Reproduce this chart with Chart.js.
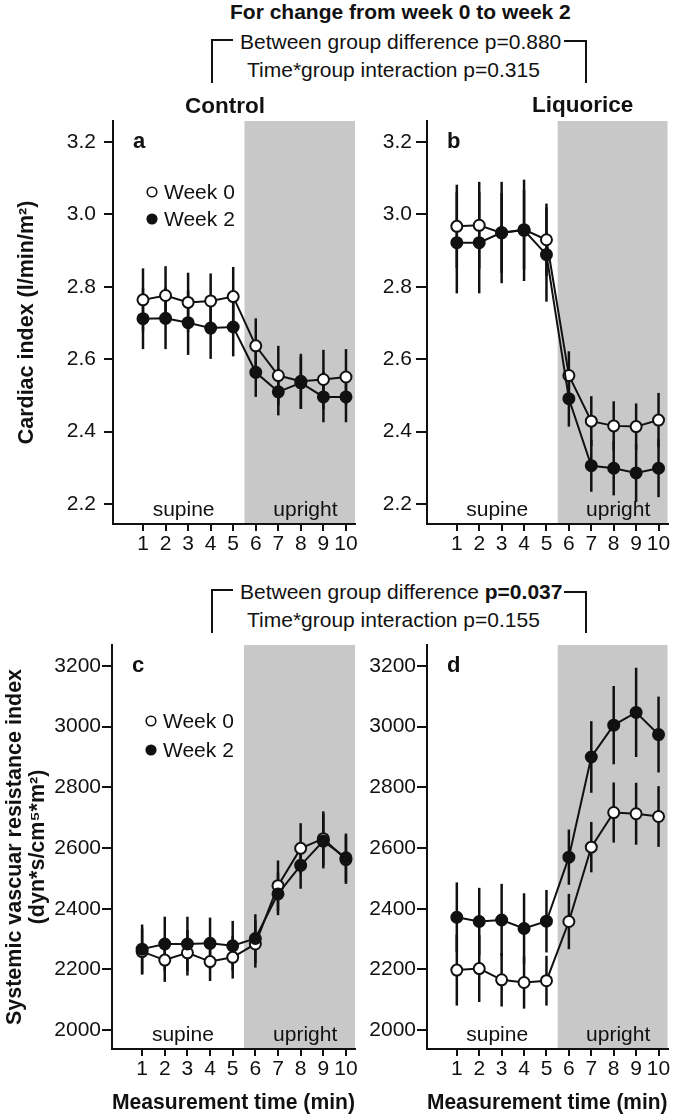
<!DOCTYPE html>
<html>
<head>
<meta charset="utf-8">
<script src="https://cdn.jsdelivr.net/npm/chart.js@4.4.1/dist/chart.umd.min.js"></script>
<style>
body { margin:0; background:#fff; }
#fig { position:relative; width:675px; height:1116px; font-family:"Liberation Sans", Arial, sans-serif; color:#111; overflow:hidden; }
canvas { position:absolute; }
.txt { position:absolute; white-space:nowrap; font-size:21px; line-height:24px; }
.b { font-weight:bold; }
.ln { position:absolute; background:#111; }
</style>
</head>
<body>
<div id="fig">
  <canvas id="pa" width="370" height="460" style="left:0;top:110px"></canvas>
  <canvas id="pb" width="305" height="460" style="left:370px;top:110px"></canvas>
  <canvas id="pc" width="370" height="481" style="left:0;top:635px"></canvas>
  <canvas id="pd" width="305" height="481" style="left:370px;top:635px"></canvas>

  <div class="txt b" style="left:230px;top:0px">For change from week 0 to week 2</div>
  <div class="txt" style="left:240px;top:30px">Between group difference p=0.880</div>
  <div class="txt" style="left:247px;top:58px">Time*group interaction p=0.315</div>
  <div class="txt b" style="left:185px;top:94px;font-size:22.5px">Control</div>
  <div class="txt b" style="left:532px;top:93px;font-size:22.5px">Liquorice</div>
  <div class="ln" style="left:211px;top:39px;width:2px;height:44px"></div>
  <div class="ln" style="left:211px;top:39px;width:22px;height:2px"></div>
  <div class="ln" style="left:564px;top:40px;width:23px;height:2px"></div>
  <div class="ln" style="left:585px;top:40px;width:2px;height:43px"></div>

  <div class="txt" style="left:240px;top:580px">Between group difference <b>p=0.037</b></div>
  <div class="txt" style="left:247px;top:608px">Time*group interaction p=0.155</div>
  <div class="ln" style="left:211px;top:589px;width:2px;height:44px"></div>
  <div class="ln" style="left:211px;top:589px;width:22px;height:2px"></div>
  <div class="ln" style="left:564px;top:591px;width:23px;height:2px"></div>
  <div class="ln" style="left:585px;top:591px;width:2px;height:42px"></div>
</div>
<script>
// measurement minutes
const minutes = [1, 2, 3, 4, 5, 6, 7, 8, 9, 10];

// cardiac index, control
const ciControlWk0 = [2.764, 2.776, 2.757, 2.761, 2.773, 2.637, 2.555, 2.539, 2.544, 2.551];
const ciControlWk0Err = [0.087, 0.081, 0.082, 0.076, 0.082, 0.076, 0.082, 0.076, 0.082, 0.077];
const ciControlWk2 = [2.712, 2.713, 2.701, 2.686, 2.689, 2.564, 2.510, 2.535, 2.496, 2.496];
const ciControlWk2Err = [0.084, 0.085, 0.089, 0.085, 0.081, 0.068, 0.065, 0.072, 0.070, 0.070];

// cardiac index, liquorice
const ciLiqWk0 = [2.967, 2.970, 2.949, 2.958, 2.930, 2.555, 2.429, 2.416, 2.414, 2.432];
const ciLiqWk0Err = [0.115, 0.120, 0.110, 0.110, 0.100, 0.067, 0.069, 0.068, 0.064, 0.075];
const ciLiqWk2 = [2.922, 2.922, 2.950, 2.956, 2.889, 2.491, 2.306, 2.299, 2.286, 2.299];
const ciLiqWk2Err = [0.140, 0.140, 0.140, 0.140, 0.130, 0.077, 0.072, 0.075, 0.080, 0.080];

// systemic vascular resistance index, control
const svriControlWk0 = [2259, 2231, 2255, 2226, 2240, 2284, 2476, 2599, 2631, 2562];
const svriControlWk0Err = [76, 72, 75, 64, 70, 78, 83, 83, 90, 80];
const svriControlWk2 = [2267, 2284, 2284, 2286, 2278, 2302, 2449, 2543, 2623, 2568];
const svriControlWk2Err = [81, 90, 90, 85, 82, 80, 70, 77, 90, 80];

// systemic vascular resistance index, liquorice
const svriLiqWk0 = [2198, 2203, 2166, 2157, 2163, 2358, 2603, 2717, 2713, 2704];
const svriLiqWk0Err = [117, 110, 88, 86, 82, 91, 83, 99, 102, 100];
const svriLiqWk2 = [2372, 2358, 2363, 2335, 2359, 2570, 2900, 3005, 3047, 2974];
const svriLiqWk2Err = [115, 111, 119, 116, 103, 91, 118, 129, 147, 125];

const ciTicks = [2.2, 2.4, 2.6, 2.8, 3.0, 3.2];
const svriTicks = [2000, 2200, 2400, 2600, 2800, 3000, 3200];

const uprightFrom = 5.5;
const supineLabelX = 2.8;
const uprightLabelX = 8.2;

const FONT = '"Liberation Sans", Arial, sans-serif';
const INK = '#111';
Chart.defaults.font.family = FONT;
Chart.defaults.color = INK;

const panelPlugin = {
    id: 'panelStuff',
    beforeDraw(chart) {
        const ctx = chart.ctx, a = chart.chartArea;
        const xs = chart.scales.x;
        const x0 = xs.getPixelForValue(uprightFrom);
        ctx.save();
        ctx.fillStyle = '#c8c8c8';
        ctx.fillRect(x0, a.top, a.right - x0, a.bottom - a.top);
        ctx.restore();
    },
    beforeDatasetsDraw(chart) {
        const ctx = chart.ctx, ys = chart.scales.y;
        ctx.save();
        ctx.strokeStyle = INK;
        ctx.lineWidth = 2.5;
        chart.data.datasets.forEach((ds, i) => {
            const meta = chart.getDatasetMeta(i);
            ds.data.forEach((p, j) => {
                const px = meta.data[j].x;
                ctx.beginPath();
                ctx.moveTo(px, ys.getPixelForValue(p.y + ds.err[j]));
                ctx.lineTo(px, ys.getPixelForValue(p.y - ds.err[j]));
                ctx.stroke();
            });
        });
        ctx.restore();
    },
    afterDraw(chart) {
        const ctx = chart.ctx, a = chart.chartArea, xs = chart.scales.x;
        const o = chart.options.plugins.panelStuff;
        ctx.save();
        ctx.fillStyle = INK;
        ctx.textBaseline = 'middle';
        ctx.font = 'bold 22px ' + FONT;
        ctx.textAlign = 'left';
        ctx.fillText(o.letter, a.left + 20, a.top + 21);
        ctx.font = '21px ' + FONT;
        ctx.textAlign = 'center';
        ctx.fillText('supine', xs.getPixelForValue(supineLabelX), a.bottom - 14);
        ctx.fillText('upright', xs.getPixelForValue(uprightLabelX), a.bottom - 14);
        if (o.legendY) {
            const names = ['Week 0', 'Week 2'];
            const fills = ['#fff', INK];
            ctx.textAlign = 'left';
            for (let k = 0; k < 2; k++) {
                const cy = a.top + o.legendY[k];
                ctx.beginPath();
                ctx.arc(a.left + 39, cy, 4.8, 0, Math.PI * 2);
                ctx.fillStyle = fills[k];
                ctx.fill();
                ctx.lineWidth = 1.6;
                ctx.strokeStyle = INK;
                ctx.stroke();
                ctx.fillStyle = INK;
                ctx.fillText(names[k], a.left + 51, cy + 1);
            }
        }
        ctx.restore();
    }
};

function series(label, vals, errs, fill, order) {
    return {
        label: label,
        data: minutes.map((m, i) => ({ x: m, y: vals[i] })),
        err: errs,
        order: order,
        borderColor: INK,
        borderWidth: 2,
        pointRadius: 5.5,
        pointBorderWidth: 2,
        pointBackgroundColor: fill,
        pointBorderColor: INK,
        showLine: true,
        tension: 0
    };
}

function panel(id, p) {
    new Chart(document.getElementById(id), {
        type: 'line',
        data: {
            datasets: [
                series('Week 0', p.wk0, p.wk0Err, '#fff', 1),
                series('Week 2', p.wk2, p.wk2Err, INK, 0)
            ]
        },
        options: {
            responsive: false,
            animation: false,
            devicePixelRatio: 1,
            layout: { padding: { top: p.padTop, right: 7 + p.padRight, left: 0, bottom: 0 } },
            plugins: {
                legend: { display: false },
                tooltip: { enabled: false },
                panelStuff: { letter: p.letter, legendY: p.legendY }
            },
            scales: {
                x: {
                    type: 'linear',
                    min: -0.33,
                    max: 10.4,
                    afterBuildTicks: s => { s.ticks = minutes.map(v => ({ value: v })); },
                    afterFit: s => { s.height = p.xH; s.paddingLeft = 0; s.paddingRight = 0; },
                    grid: { drawOnChartArea: false, color: INK, lineWidth: 2, tickLength: 7 },
                    border: { color: INK, width: 2 },
                    ticks: { autoSkip: false, maxRotation: 0, minRotation: 0, padding: 1, font: { size: 21 }, callback: v => String(v) },
                    title: {
                        display: !!p.xTitle,
                        text: p.xTitle || '',
                        font: { size: 21.5, weight: 'bold' },
                        padding: { top: 0, bottom: 0 }
                    }
                },
                y: {
                    min: p.yMin,
                    max: p.yMax,
                    afterBuildTicks: s => { s.ticks = p.yTicks.map(v => ({ value: v })); },
                    afterFit: s => { s.width = p.yW; s.paddingTop = 0; s.paddingBottom = 0; },
                    grid: { drawOnChartArea: false, color: INK, lineWidth: 2, tickLength: p.tickLen },
                    border: { color: INK, width: 2 },
                    ticks: { padding: p.tickPad, font: { size: 21 }, callback: v => v.toFixed(p.dec) },
                    title: {
                        display: !!p.yTitle,
                        text: p.yTitle || '',
                        font: { size: 21.5, weight: 'bold', lineHeight: p.yTitleLH },
                        padding: { top: p.yTitlePad, bottom: 0 }
                    }
                }
            }
        },
        plugins: [panelPlugin]
    });
}

panel('pa', {
    wk0: ciControlWk0, wk0Err: ciControlWk0Err, wk2: ciControlWk2, wk2Err: ciControlWk2Err,
    yMin: 2.145, yMax: 3.258, yTicks: ciTicks, dec: 1, letter: 'a', legendY: [71, 98],
    padTop: 11, padRight: 8, xH: 46, yW: 113, tickLen: 9, tickPad: 8,
    yTitle: 'Cardiac index (l/min/m²)', yTitleLH: 1.2, yTitlePad: 14
});
panel('pb', {
    wk0: ciLiqWk0, wk0Err: ciLiqWk0Err, wk2: ciLiqWk2, wk2Err: ciLiqWk2Err,
    yMin: 2.145, yMax: 3.258, yTicks: ciTicks, dec: 1, letter: 'b', legendY: null,
    padTop: 11, padRight: 0, xH: 46, yW: 57, tickLen: 11, tickPad: 4
});
panel('pc', {
    wk0: svriControlWk0, wk0Err: svriControlWk0Err, wk2: svriControlWk2, wk2Err: svriControlWk2Err,
    yMin: 1938, yMax: 3269, yTicks: svriTicks, dec: 0, letter: 'c', legendY: [76, 105],
    padTop: 10, padRight: 8, xH: 67, yW: 112, tickLen: 10, tickPad: 1,
    yTitle: ['Systemic vascuar resistance index', '(dyn*s/cm⁵*m²)'], yTitleLH: 1.07, yTitlePad: 4,
    xTitle: 'Measurement time (min)'
});
panel('pd', {
    wk0: svriLiqWk0, wk0Err: svriLiqWk0Err, wk2: svriLiqWk2, wk2Err: svriLiqWk2Err,
    yMin: 1938, yMax: 3269, yTicks: svriTicks, dec: 0, letter: 'd', legendY: null,
    padTop: 10, padRight: 0, xH: 67, yW: 57, tickLen: 10, tickPad: 1,
    xTitle: 'Measurement time (min)'
});
</script>
</body>
</html>
